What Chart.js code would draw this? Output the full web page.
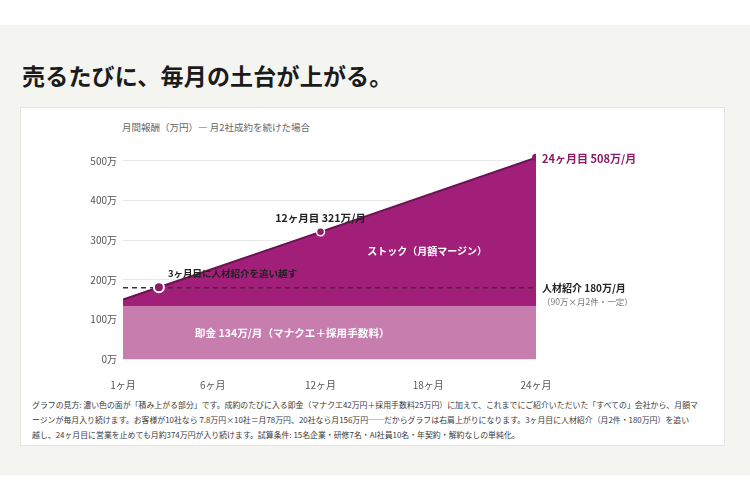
<!DOCTYPE html>
<html lang="ja">
<head>
<meta charset="utf-8">
<script src="https://cdn.jsdelivr.net/npm/chart.js@4.4.1/dist/chart.umd.min.js"></script>
<style>
  html, body { margin:0; padding:0; width:750px; height:500px; background:#fff; overflow:hidden;
    font-family:"Noto Sans CJK JP","Noto Sans",sans-serif; }
  #band { position:absolute; left:0; top:25px; width:750px; height:450px; background:#f4f4f1; }
  #title { position:absolute; left:22px; top:59px; font-size:23px; font-weight:700; color:#1b1b1b; line-height:32px; white-space:nowrap; letter-spacing:0.2px; }
  #card { position:absolute; left:20px; top:107px; width:703px; height:337px; background:#fff; border:1px solid #e4e4e0; }
  #caption { position:absolute; left:122px; top:119px; font-size:9.5px; color:#666; white-space:nowrap; line-height:16px; }
  #wrap { position:absolute; left:20px; top:140px; width:705px; height:250px; }
  #wrap canvas { position:absolute; left:0; top:0; }
  .ann { position:absolute; white-space:nowrap; line-height:14px; }
  #note { position:absolute; left:32px; top:397px; font-size:7.9px; color:#3a3a3a; line-height:15px; white-space:nowrap; }
</style>
</head>
<body>
<div id="band"></div>
<div id="title">売るたびに、毎月の土台が上がる。</div>
<div id="card"></div>
<div id="caption">月間報酬（万円）— 月2社成約を続けた場合</div>
<div id="wrap">
  <canvas id="c" width="705" height="250"></canvas>
  <div class="ann" id="a12" style="font-size:10.6px;font-weight:700;color:#222;">12ヶ月目 321万/月</div>
  <div class="ann" id="a24" style="font-size:11px;font-weight:700;color:#8a1a64;">24ヶ月目 508万/月</div>
  <div class="ann" id="a3" style="font-size:9.5px;font-weight:700;color:#222;">3ヶ月目に人材紹介を追い越す</div>
  <div class="ann" id="aStock" style="font-size:10px;font-weight:700;color:#fff;">ストック（月額マージン）</div>
  <div class="ann" id="aBase" style="font-size:10.6px;font-weight:700;color:#fff;">即金 134万/月（マナクエ＋採用手数料）</div>
  <div class="ann" id="aRef" style="font-size:10px;font-weight:700;color:#222;">人材紹介 180万/月</div>
  <div class="ann" id="aRefSub" style="font-size:8.5px;color:#777;">（90万×月2件・一定）</div>
</div>
<div id="note">グラフの見方: 濃い色の面が「積み上がる部分」です。成約のたびに入る即金（マナクエ42万円＋採用手数料25万円）に加えて、これまでにご紹介いただいた「すべての」会社から、月額マ<br>ージンが毎月入り続けます。お客様が10社なら 7.8万円×10社＝月78万円、20社なら月156万円──だからグラフは右肩上がりになります。3ヶ月目に人材紹介（月2件・180万円）を追い<br>越し、24ヶ月目に営業を止めても月約374万円が入り続けます。試算条件: 15名企業・研修7名・AI社員10名・年契約・解約なしの単純化。</div>

<script>
// ---- data ----
const months = [1, 3, 12, 24];
const totalValues = [150, 181, 321, 508];
const baseMonths = [1, 24];
const baseValues = [134, 134];
const referralMonths = [1, 24];
const referralValues = [180, 180];
const xTickValues = [1, 6, 12, 18, 24];
const yTickValues = [0, 100, 200, 300, 400, 500];

const toPts = (xs, ys) => xs.map((x, i) => ({ x: x, y: ys[i] }));

const placeAnnotations = {
  id: 'placeAnn',
  afterRender(chart) {
    const x = chart.scales.x, y = chart.scales.y;
    const set = (id, px, py, tx, ty) => {
      const el = document.getElementById(id);
      el.style.left = px + 'px';
      el.style.top = py + 'px';
      el.style.transform = 'translate(' + tx + ',' + ty + ')';
    };
    set('a12', x.getPixelForValue(months[2]), y.getPixelForValue(totalValues[2]) - 14, '-50%', '-50%');
    set('a24', x.getPixelForValue(months[3]) + 6, y.getPixelForValue(totalValues[3]), '0', '-50%');
    set('a3', x.getPixelForValue(months[1]) + 9, y.getPixelForValue(totalValues[1]) - 14, '0', '-50%');
    set('aStock', x.getPixelForValue(14.6), y.getPixelForValue(273), '0', '-50%');
    set('aBase', x.getPixelForValue(5.0), y.getPixelForValue(66), '0', '-50%');
    set('aRef', x.getPixelForValue(24) + 6, y.getPixelForValue(referralValues[0]), '0', '-50%');
    set('aRefSub', x.getPixelForValue(24) + 6, y.getPixelForValue(146), '0', '-50%');
  }
};

new Chart(document.getElementById('c'), {
  type: 'line',
  data: {
    datasets: [
      {
        label: '即金',
        data: toPts(baseMonths, baseValues),
        fill: 'origin',
        backgroundColor: '#c77dad',
        borderWidth: 0,
        pointRadius: 0,
        order: 2
      },
      {
        label: 'ストック',
        data: toPts(months, totalValues),
        fill: '-1',
        backgroundColor: '#a11f78',
        borderColor: '#6c1252',
        borderWidth: 2,
        pointRadius: [0, 5, 4, 4],
        pointBackgroundColor: '#8e1a68',
        pointBorderColor: ['#fff', '#fff', '#fff', '#7a1558'],
        pointBorderWidth: [0, 2, 1.5, 0],
        order: 0
      },
      {
        label: '人材紹介',
        data: toPts(referralMonths, referralValues),
        fill: false,
        borderColor: '#4a2a40',
        borderWidth: 1.5,
        borderDash: [5, 4],
        pointRadius: 0,
        order: 1
      }
    ]
  },
  options: {
    responsive: false,
    animation: false,
    events: [],
    layout: { padding: { left: 0, right: 189, top: 13, bottom: 0 } },
    plugins: {
      legend: { display: false },
      tooltip: { enabled: false },
      filler: { drawTime: 'beforeDatasetsDraw' }
    },
    scales: {
      x: {
        type: 'linear',
        min: 1, max: 24,
        grid: { display: false },
        border: { display: false },
        afterBuildTicks: (s) => { s.ticks = xTickValues.map(v => ({ value: v })); },
        afterFit: (s) => { s.height = 31; },
        ticks: {
          padding: 12,
          color: '#555',
          font: { family: '"Noto Sans CJK JP"', size: 10 },
          callback: (v) => v + 'ヶ月',
          maxRotation: 0
        }
      },
      y: {
        min: 0, max: 520,
        grid: { color: '#e9e9e9', lineWidth: 1, drawTicks: false },
        border: { display: false },
        afterBuildTicks: (s) => { s.ticks = yTickValues.map(v => ({ value: v })); },
        afterFit: (s) => { s.width = 103; },
        ticks: {
          padding: 6,
          color: '#555',
          font: { family: '"Noto Sans CJK JP"', size: 10 },
          callback: (v) => v + '万'
        }
      }
    }
  },
  plugins: [placeAnnotations]
});
</script>
</body>
</html>
